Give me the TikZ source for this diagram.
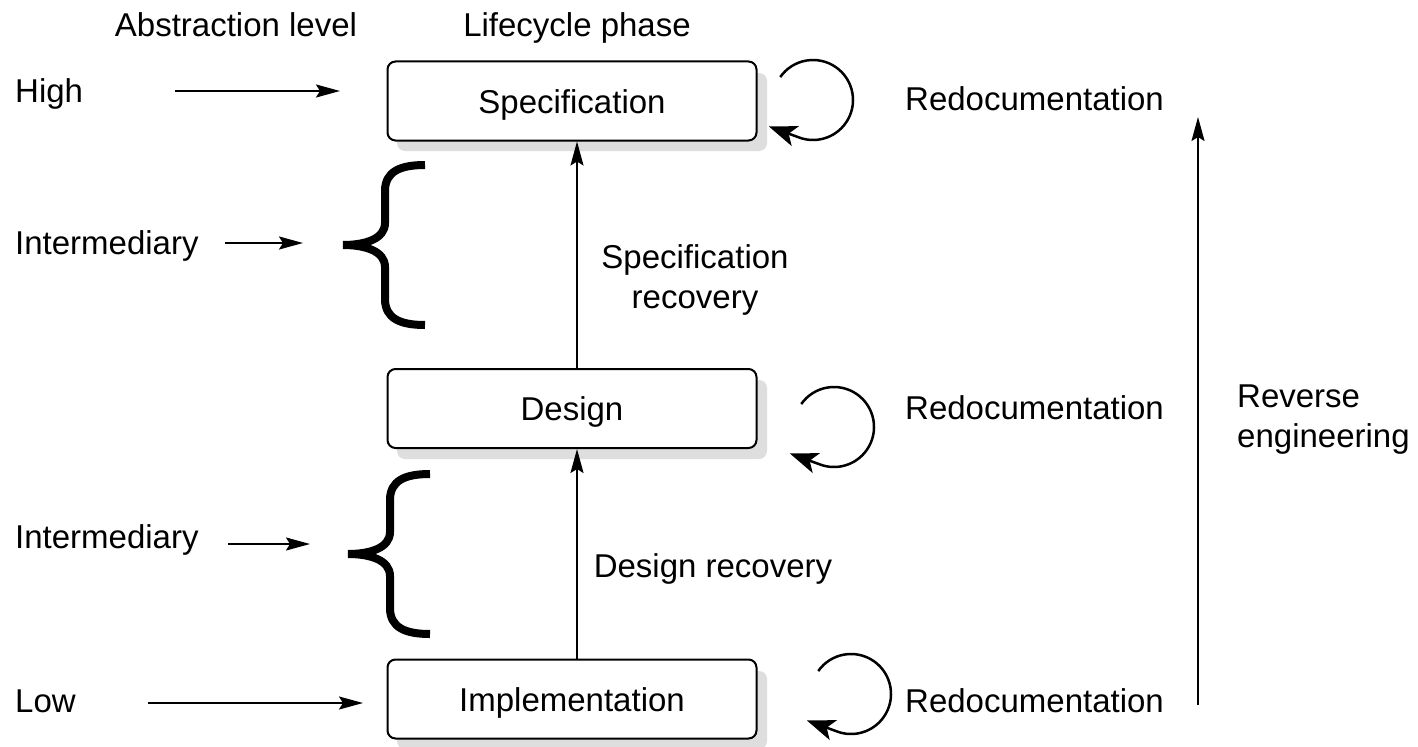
\documentclass[tikz,border=0pt]{standalone}
\usepackage{fontspec}
\setmainfont{Liberation Sans}
\usetikzlibrary{arrows.meta}

\begin{document}
\begin{tikzpicture}[x=1bp,y=-1bp,
  every node/.style={font=\fontsize{33bp}{40bp}\selectfont, text=black, inner sep=0pt},
  phase/.style={draw, line width=2bp, rounded corners=8bp, fill=white,
    minimum width=369bp, minimum height=79bp, text height=24bp, text depth=0pt},
  shade/.style={fill=black!13, rounded corners=8bp},
  lbl/.style={anchor=base west},
  arr/.style={line width=2bp, -{Stealth[length=24bp,width=13bp,inset=4bp]}},
  loopy/.style={line width=2.5bp, -{Stealth[length=28bp,width=21bp,inset=7bp]}},
  bracepath/.style={line width=8bp},
]
\useasboundingbox (0,0) rectangle (1418,746);
\fill[white] (0,0) rectangle (1418,746);

% drop shadows of the phase boxes
\fill[shade] (397,73) rectangle (767,151);
\fill[shade] (397,380) rectangle (767,459);
\fill[shade] (397,671) rectangle (767,749);

% lifecycle phases
\node[phase] (spec) at (572,101) {Specification};
\node[phase] (design) at (572,408.5) {Design};
\node[phase] (impl) at (572,699) {Implementation};

% column headings
\node[anchor=base] (abs) at (236,37) {Abstraction level};
\node[anchor=base] (life) at (577,37) {Lifecycle phase};

% abstraction levels
\node[lbl] (high) at (15,102) {High};
\node[lbl] (int1) at (15,254) {Intermediary};
\node[lbl] (int2) at (15,548) {Intermediary};
\node[lbl] (low) at (15,712) {Low};

\coordinate (highA) at (175,91);  \coordinate (highB) at (340,91);
\coordinate (int1A) at (225,243); \coordinate (int1B) at (303,243);
\coordinate (int2A) at (228,544); \coordinate (int2B) at (310,544);
\coordinate (lowA) at (148,703);  \coordinate (lowB) at (363,703);
\draw[arr] (highA) -- (highB);
\draw[arr] (int1A) -- (int1B);
\draw[arr] (int2A) -- (int2B);
\draw[arr] (lowA) -- (lowB);

% braces for the intermediary levels
\foreach \tx/\ty in {343/245, 348/554}{
  \begin{scope}[shift={(\tx,\ty)}]
    \draw[bracepath] (82,-80) .. controls (58,-80) and (42,-74) .. (42,-54)
      -- (42,-22) .. controls (42,-6) and (22,0) .. (0,0)
      .. controls (22,0) and (42,6) .. (42,22) -- (42,54)
      .. controls (42,74) and (58,80) .. (82,80);
  \end{scope}
}

% recovery steps
\draw[arr] ([xshift=5bp]design.north) -- ([xshift=5bp]spec.south);
\draw[arr] ([xshift=5bp]impl.north) -- ([xshift=5bp]design.south);
\node[anchor=base, align=center] (srec) at (695,308) {Specification\\recovery};
\node[anchor=base] (drec) at (713,577) {Design recovery};

% redocumentation loops
\coordinate (loop1) at (813,100);
\coordinate (loop2) at (834,427);
\coordinate (loop3) at (851,694);
\foreach \c in {loop1,loop2,loop3}{
  \draw[loopy] (\c) ++(-145:40) arc[start angle=-145, end angle=112, radius=40]
    -- ++(200:31);
}
\node[lbl] (redo1) at (905,110) {Redocumentation};
\node[lbl] (redo2) at (905,419) {Redocumentation};
\node[lbl] (redo3) at (905,712) {Redocumentation};

% reverse engineering
\coordinate (revA) at (1198,705);
\coordinate (revB) at (1198,117);
\draw[arr] (revA) -- (revB);
\node[anchor=base west, align=left] (rev) at (1237,447) {Reverse\\engineering};
\end{tikzpicture}
\end{document}
